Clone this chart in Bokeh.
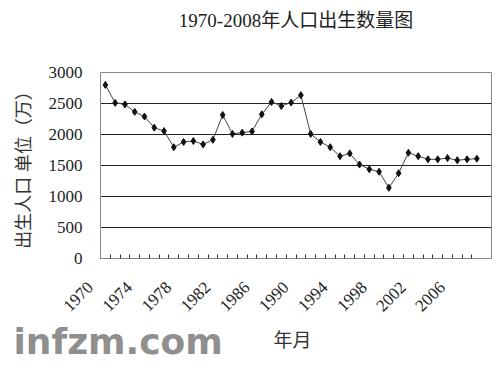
from bokeh.plotting import figure
from bokeh.models import Range1d, FixedTicker, Title, LinearAxis
from bokeh.layouts import column
from bokeh.embed import file_html
from bokeh.resources import INLINE
from bokeh.core.properties import value
import math

years = list(range(1970, 2009))
births = [2800, 2510, 2485, 2365, 2290, 2110, 2055, 1795, 1880, 1895,
          1840, 1915, 2315, 2010, 2030, 2050, 2325, 2525, 2460, 2515,
          2635, 2010, 1880, 1795, 1650, 1695, 1515, 1440, 1400, 1140,
          1375, 1705, 1650, 1600, 1600, 1620, 1585, 1600, 1610]
label_years = [1970, 1974, 1978, 1982, 1986, 1990, 1994, 1998, 2002, 2006]
y_ticks = [0, 500, 1000, 1500, 2000, 2500, 3000]

title_text = "1970-2008年人口出生数量图"
y_label = "出生人口 单位（万）"
x_label = "年月"
watermark = "infzm.com"

SERIF = "'Liberation Serif', 'Noto Sans CJK SC'"
NBSP_PAD = "\u00a0" * 5  # pushes rotated labels down-left of their category

p = figure(width=500, height=325,
           x_range=Range1d(years[0] - 0.5, years[-1] + 1.5),
           y_range=Range1d(0, 3000),
           output_backend="svg", toolbar_location=None,
           x_axis_location=None,
           min_border_left=100, min_border_right=9,
           min_border_top=72, min_border_bottom=65)
p.background_fill_color = "white"
p.border_fill_color = "white"
p.outline_line_color = "#8a8a8a"
p.outline_line_width = 1

# grid
p.xgrid.grid_line_color = None
p.ygrid.grid_line_color = "#222222"
p.ygrid.grid_line_width = 1
p.ygrid.ticker = FixedTicker(ticks=y_ticks[1:-1])

# y axis
p.yaxis.ticker = FixedTicker(ticks=y_ticks)
p.yaxis.major_tick_in = 0
p.yaxis.major_tick_out = 0
p.yaxis.minor_tick_line_color = None
p.yaxis.axis_line_color = "#8a8a8a"
p.yaxis.major_label_text_font = SERIF
p.yaxis.major_label_text_font_size = "17px"
p.yaxis.major_label_text_color = "#222222"
p.yaxis.major_label_standoff = 18
p.yaxis.axis_label = y_label
p.yaxis.axis_label_text_font = SERIF
p.yaxis.axis_label_text_font_size = "18px"
p.yaxis.axis_label_text_font_style = "normal"
p.yaxis.axis_label_text_color = "#333333"
p.yaxis.axis_label_standoff = 12

# x axis: minor ticks on category boundaries, labels every 4 years
boundaries = [y - 0.5 for y in years]
xaxis = LinearAxis(ticker=FixedTicker(ticks=label_years, minor_ticks=boundaries))
xaxis.major_label_overrides = {y: str(y) + NBSP_PAD for y in label_years}
xaxis.major_tick_in = 0
xaxis.major_tick_out = 0
xaxis.minor_tick_in = 4
xaxis.minor_tick_out = 0
xaxis.minor_tick_line_color = "#333333"
xaxis.axis_line_color = "#8a8a8a"
xaxis.major_label_orientation = math.pi / 4
xaxis.major_label_text_font = SERIF
xaxis.major_label_text_font_size = "17px"
xaxis.major_label_text_color = "#222222"
xaxis.major_label_standoff = 11
p.add_layout(xaxis, "below")

# title (spacer first, so the real title sits at the top of the canvas)
p.add_layout(Title(text=" ", text_font_size="2px", standoff=30), "above")
p.add_layout(Title(text=title_text, align="center", vertical_align="top",
                   text_font=SERIF, text_font_size="19px",
                   text_font_style="normal", text_color="#222222",
                   standoff=12), "above")

# data
p.line(years, births, line_color="#444444", line_width=1)
p.scatter(years, births, marker="diamond", size=7, fill_color="#111111",
          line_color="#111111")

# bottom strip: watermark and x axis title
p2 = figure(width=500, height=44, x_range=Range1d(0, 500), y_range=Range1d(0, 44),
            title=None, output_backend="svg", toolbar_location=None,
            x_axis_location=None, y_axis_location=None,
            min_border=0, min_border_left=0, min_border_right=0,
            min_border_top=0, min_border_bottom=0, outline_line_color=None)
for fig in (p, p2):
    try:
        fig.frame_align = False
    except Exception:
        pass
p2.grid.visible = False
p2.background_fill_color = "white"
p2.border_fill_color = "white"
p2.text(x=[13], y=[28], text=[watermark], text_font=value("DejaVu Sans"),
        text_font_style="bold", text_font_size="36px", text_color="#8f8f8f",
        text_baseline="alphabetic", text_align="left")
p2.text(x=[292], y=[29], text=[x_label], text_font=value(SERIF),
        text_font_size="19px", text_color="#333333",
        text_baseline="alphabetic", text_align="center")

layout = column(p, p2, spacing=0)
open("out.html", "w").write(file_html(layout, INLINE))
